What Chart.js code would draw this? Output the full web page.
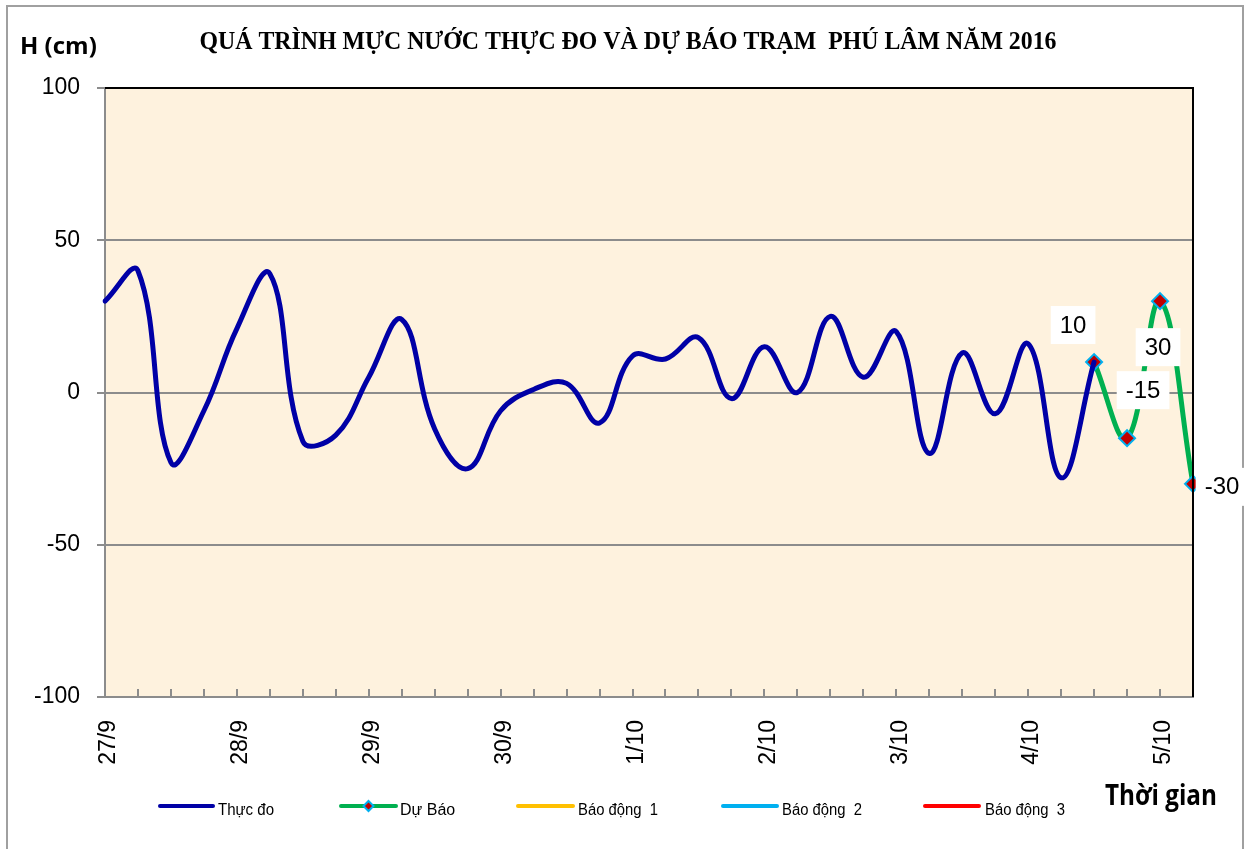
<!DOCTYPE html>
<html><head><meta charset="utf-8">
<script src="https://cdn.jsdelivr.net/npm/chart.js@4.4.0/dist/chart.umd.min.js"></script>
<style>html,body{margin:0;padding:0;background:#fff}#wrap{width:1252px;height:849px;position:relative}</style>
</head><body><div id="wrap"><canvas id="c" width="1252" height="849"></canvas></div>
<script>
// ---- data ----
const dayLabels = ['27/9','28/9','29/9','30/9','1/10','2/10','3/10','4/10','5/10'];
const hourLabels = ['0h','6h','12h','18h'];
const observed = [30,40,-23,-6,21,39,-16,-14,5,24,-12,-25,-6,1,3,-10,12,11,18,-2,15,0,25,5,20,-20,13,-7,16,-28,10];
const forecast = [10,-15,30,-30];
const forecastStart = 30;
const alarm1 = [];
const alarm2 = [];
const alarm3 = [];
const yTicks = [-100,-50,0,50,100];
const seriesNames = ['Thực đo','Dự Báo','Báo động  1','Báo động  2','Báo động  3'];

const nPoints = forecastStart + forecast.length;
const categories = Array.from({length:nPoints},(_,i)=> dayLabels[Math.floor(i/4)] + ' ' + hourLabels[i%4]);
const forecastData = Array(nPoints).fill(null);
forecast.forEach((v,k)=>{ forecastData[forecastStart+k] = v; });

Chart.defaults.font.family = "'Liberation Sans', Arial, sans-serif";

const C = {blue:'#0000A6', green:'#00B050', yellow:'#FFC000', cyan:'#00B0F0', red:'#FF0000', mark:'#C00000'};

const decor = {
  id:'decor',
  beforeDraw(chart){
    const {ctx, chartArea:a} = chart;
    ctx.save();
    ctx.fillStyle = '#FEF2DE';
    ctx.fillRect(a.left, a.top, a.right-a.left, a.bottom-a.top);
    ctx.restore();
  },
  beforeDatasetsDraw(chart){
    const {ctx, chartArea:a, scales:{x}} = chart;
    ctx.save();
    ctx.strokeStyle = '#8c8c8c'; ctx.lineWidth = 2;
    for (let i=0;i<x.ticks.length;i++){
      const px = Math.round(x.getPixelForTick(i));
      ctx.beginPath(); ctx.moveTo(px, a.bottom-8); ctx.lineTo(px, a.bottom); ctx.stroke();
    }
    ctx.restore();
  },
  afterDraw(chart){
    const {ctx, chartArea:a} = chart;
    ctx.save();
    // plot border top/right
    ctx.strokeStyle = '#000'; ctx.lineWidth = 2;
    ctx.beginPath(); ctx.moveTo(a.left, a.top); ctx.lineTo(a.right, a.top); ctx.lineTo(a.right, a.bottom); ctx.stroke();
    // outer frame
    ctx.strokeStyle = '#a0a0a0'; ctx.lineWidth = 2;
    ctx.strokeRect(7, 6, 1236, 900);
    // title
    ctx.fillStyle = '#000';
    ctx.textAlign = 'center'; ctx.textBaseline = 'alphabetic';
    ctx.font = "bold 25px 'Liberation Serif', 'Times New Roman', serif";
    ctx.fillText('QUÁ TRÌNH MỰC NƯỚC THỰC ĐO VÀ DỰ BÁO TRẠM  PHÚ LÂM NĂM 2016', 628, 49, 857);
    // axis titles
    ctx.textAlign = 'left';
    ctx.font = "bold 24px 'Open Sans', 'Liberation Sans', sans-serif";
    ctx.fillText('H (cm)', 20, 54, 78);
    ctx.font = "bold 28px 'Open Sans', 'Liberation Sans', sans-serif";
    ctx.fillText('Thời gian', 1105, 805, 112);
    // data labels on forecast
    const meta = chart.getDatasetMeta(1);
    const offs = [[-21,-37],[16,-48],[-2,46],[29,3]];
    ctx.font = "24px 'Liberation Sans', Arial, sans-serif";
    ctx.textAlign = 'center'; ctx.textBaseline = 'middle';
    forecast.forEach((v,k)=>{
      const p = meta.data[forecastStart+k];
      const cx = p.x + offs[k][0], cy = p.y + offs[k][1];
      const txt = String(v);
      const w = ctx.measureText(txt).width + 18, h = 38;
      ctx.fillStyle = '#fff';
      ctx.fillRect(cx - w/2, cy - h/2, w, h);
      ctx.fillStyle = '#000';
      ctx.fillText(txt, cx, cy+1);
    });
    // legend
    const items = [
      {ds:0, x0:160, x1:213, tx:218},
      {ds:1, x0:341, x1:396, tx:400},
      {ds:2, x0:518, x1:573, tx:578},
      {ds:3, x0:723, x1:777, tx:782},
      {ds:4, x0:925, x1:979, tx:985},
    ];
    const ly = 806;
    ctx.textAlign = 'left'; ctx.textBaseline = 'alphabetic';
    ctx.font = "16px 'Liberation Sans', Arial, sans-serif";
    items.forEach(it=>{
      const ds = chart.data.datasets[it.ds];
      ctx.strokeStyle = ds.borderColor; ctx.lineWidth = 4; ctx.lineCap = 'round';
      ctx.beginPath(); ctx.moveTo(it.x0, ly); ctx.lineTo(it.x1, ly); ctx.stroke();
      if (ds.pointRadius > 0){
        const mx = (it.x0+it.x1)/2;
        ctx.beginPath();
        ctx.moveTo(mx, ly-5); ctx.lineTo(mx+5, ly); ctx.lineTo(mx, ly+5); ctx.lineTo(mx-5, ly); ctx.closePath();
        ctx.fillStyle = ds.pointBackgroundColor; ctx.fill();
        ctx.strokeStyle = ds.pointBorderColor; ctx.lineWidth = 2; ctx.stroke();
      }
      ctx.fillStyle = '#000';
      ctx.fillText(ds.label, it.tx, 815, it.ds===0||it.ds===1 ? 56 : 80);
    });
    ctx.restore();
  }
};

new Chart(document.getElementById('c'), {
  type:'line',
  data:{
    labels: categories,
    datasets:[
      {label:seriesNames[0], data:observed, borderColor:C.blue, borderWidth:5, pointRadius:0, tension:0.4, borderJoinStyle:'round', borderCapStyle:'round'},
      {label:seriesNames[1], data:forecastData, borderColor:C.green, borderWidth:5, tension:0.4, borderJoinStyle:'round',
       pointStyle:'rectRot', pointRadius:8, pointBackgroundColor:C.mark, pointBorderColor:C.cyan, pointBorderWidth:2},
      {label:seriesNames[2], data:alarm1, borderColor:C.yellow, borderWidth:4, pointRadius:0},
      {label:seriesNames[3], data:alarm2, borderColor:C.cyan, borderWidth:4, pointRadius:0},
      {label:seriesNames[4], data:alarm3, borderColor:C.red, borderWidth:4, pointRadius:0},
    ]
  },
  options:{
    responsive:false, animation:false,
    layout:{padding:{top:88,right:59,left:0,bottom:0}},
    plugins:{legend:{display:false}, title:{display:false}, tooltip:{enabled:false}},
    scales:{
      x:{
        type:'category', offset:false,
        grid:{display:false},
        border:{display:true, color:'#8c8c8c', width:2},
        ticks:{autoSkip:false, maxRotation:90, minRotation:90, padding:15, labelOffset:4, color:'#000', font:{size:23},
          callback:(v,i)=> i%4===0 ? dayLabels[i/4] : ''},
        afterFit:s=>{ s.height = 152; }
      },
      y:{
        min:-100, max:100,
        afterBuildTicks:s=>{ s.ticks = yTicks.map(v=>({value:v})); },
        ticks:{padding:17, color:'#000', font:{size:23}},
        grid:{color:'#8c8c8c', lineWidth:2, tickLength:8, drawTicks:true},
        border:{color:'#8c8c8c', width:2},
        afterFit:s=>{ s.width = 105; }
      }
    }
  },
  plugins:[decor]
});
</script>
</body></html>
